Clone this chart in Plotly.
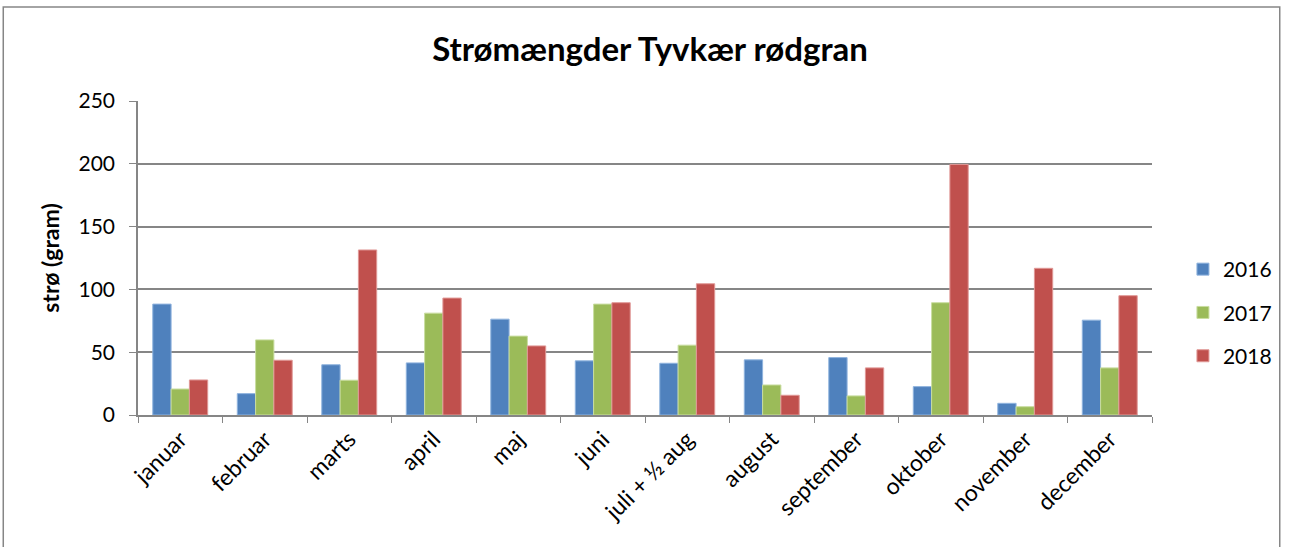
import plotly.graph_objects as go

months = ["januar", "februar", "marts", "april", "maj", "juni", "juli + ½ aug",
          "august", "september", "oktober", "november", "december"]
v2016 = [88.3, 17, 40, 41.5, 76.3, 43.1, 41.2, 43.9, 45.7, 22.6, 9.3, 75.5]
v2017 = [20.7, 59.8, 27.7, 81.1, 62.8, 88.3, 55.6, 23.9, 15.2, 89.4, 6.6, 37.5]
v2018 = [27.9, 43.6, 131.4, 93.1, 55, 89.4, 104.5, 15.7, 37.5, 199.5, 116.8, 95]

series = [("2016", v2016, "#4F81BD", "#8FB3DE"),
          ("2017", v2017, "#9BBB59", "#C9DDA0"),
          ("2018", v2018, "#C0504D", "#E09896")]

font_family = "Lato, 'Open Sans', sans-serif"

fig = go.Figure()
for name, vals, col, edge in series:
    fig.add_trace(go.Bar(
        x=months, y=vals, name=name, legendgroup=name,
        marker=dict(color=col, line=dict(color=edge, width=1)),
    ))

# plot area in the reference: x 138..1154, y 101..415
L, T = 138, 101
R, B = 1289 - 1154, 547 - 415
pw, ph = 1289 - L - R, 547 - T - B

fig.update_layout(
    width=1289, height=547,
    margin=dict(l=L, r=R, t=T, b=B),
    paper_bgcolor="white", plot_bgcolor="white",
    barmode="group", bargap=0.35, bargroupgap=0,
    font=dict(family=font_family, size=18, color="black"),
    title=dict(text="<b>Strømængder Tyvkær rødgran</b>", x=650 / 1289, xanchor="center",
               y=1 - 49 / 547, yanchor="middle", font=dict(size=33)),
    legend=dict(x=(1185 - L) / pw, xanchor="left", y=(415 - 249) / ph,
                yanchor="top", traceorder="grouped", tracegroupgap=13,
                font=dict(size=21)),
    showlegend=True,
)

fig.update_xaxes(
    tickangle=-45, showline=True, linecolor="#868686", linewidth=1.5,
    ticks="outside", tickson="boundaries", ticklen=6, tickcolor="#868686",
    tickfont=dict(size=23),
)
fig.update_yaxes(
    range=[0, 250], dtick=50, showgrid=True, gridcolor="#868686", gridwidth=1.5,
    showline=True, linecolor="#868686", linewidth=1.5, ticks="outside", ticklen=7,
    tickcolor="#868686", zeroline=False, tickfont=dict(size=21), ticklabelstandoff=10,
    title=dict(text="<b>strø (gram)</b>", font=dict(size=23), standoff=12),
)

# outer chart border
fig.add_shape(type="rect", xref="paper", yref="paper",
              x0=(3 - L) / pw, x1=(1282 - L) / pw,
              y0=(415 - 560) / ph, y1=(415 - 7) / ph,
              line=dict(color="#868686", width=1.5), fillcolor="rgba(0,0,0,0)")

fig.write_html("out.html", config={"displayModeBar": False},
               post_script="document.body.style.margin='0';")
